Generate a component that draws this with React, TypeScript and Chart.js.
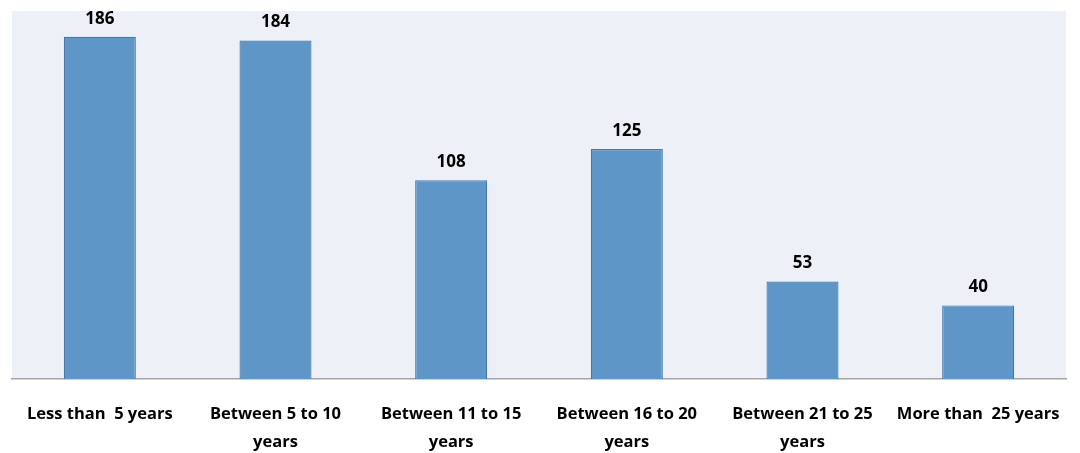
import React, { useEffect, useRef } from "react";
import { Chart, registerables } from "chart.js";

Chart.register(...registerables);

const categories: (string | string[])[] = [
  "Less than  5 years",
  ["Between 5 to 10", "years"],
  ["Between 11 to 15", "years"],
  ["Between 16 to 20", "years"],
  ["Between 21 to 25", "years"],
  "More than  25 years",
];
const values = [186, 184, 108, 125, 53, 40];

const FONT = "'Open Sans', sans-serif";

const bgPlugin = {
  id: "plotBg",
  beforeDraw(chart: any) {
    const { ctx, chartArea } = chart;
    ctx.save();
    ctx.fillStyle = "#EDF0F7";
    ctx.fillRect(chartArea.left, chartArea.top, chartArea.right - chartArea.left, chartArea.bottom - chartArea.top);
    ctx.restore();
  },
};

const labelPlugin = {
  id: "dataLabels",
  afterDatasetsDraw(chart: any) {
    const { ctx } = chart;
    const meta = chart.getDatasetMeta(0);
    ctx.save();
    ctx.fillStyle = "#000";
    ctx.font = `bold 17px ${FONT}`;
    ctx.textAlign = "center";
    ctx.textBaseline = "middle";
    meta.data.forEach((el: any, i: number) => {
      ctx.fillText(String(values[i]), el.x, el.y - 18);
    });
    ctx.restore();
  },
};

export default function App() {
  const ref = useRef<HTMLCanvasElement | null>(null);
  useEffect(() => {
    document.body.style.margin = "0";
    const chart = new Chart(ref.current!, {
      type: "bar",
      data: {
        labels: categories,
        datasets: [
          {
            data: values,
            backgroundColor: "#5F96C8",
            borderColor: "#4677A8",
            borderWidth: 1.2,
            borderSkipped: "bottom",
            barPercentage: 0.41,
            categoryPercentage: 1,
          },
        ],
      },
      options: {
        animation: false,
        responsive: true,
        maintainAspectRatio: false,
        layout: { padding: { left: 12, right: 14, top: 11, bottom: 0 } },
        plugins: { legend: { display: false }, tooltip: { enabled: false } },
        scales: {
          y: { display: false, min: 0, max: 200 },
          x: {
            grid: { display: false },
            border: { display: true, color: "#A6A6A6", width: 1.5 },
            ticks: {
              color: "#000",
              font: { family: FONT, size: 16.5, weight: "bold", lineHeight: 1.65 },
              padding: 14,
              maxRotation: 0,
              autoSkip: false,
            },
            afterFit(scale: any) {
              scale.height = 74;
            },
          },
        },
      },
      plugins: [bgPlugin, labelPlugin],
    });
    return () => chart.destroy();
  }, []);
  return (
    <div style={{ position: "fixed", left: 0, top: 0, width: 1080, height: 453, background: "#fff" }}>
      <canvas ref={ref} />
    </div>
  );
}
